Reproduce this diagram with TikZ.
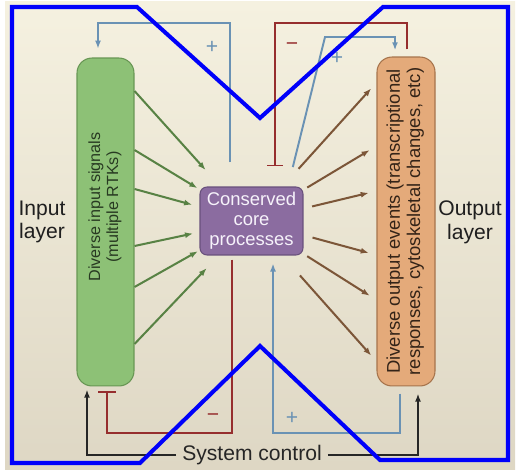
\documentclass[tikz,border=0pt]{standalone}
\usepackage{fontspec}
\setmainfont{Liberation Sans}
\usepackage{graphicx}
\usetikzlibrary{arrows.meta,calc}

\definecolor{bgtop}{RGB}{245,241,224}
\definecolor{bgbot}{RGB}{222,215,196}
\definecolor{inputfill}{RGB}{141,193,118}
\definecolor{inputline}{RGB}{104,150,84}
\definecolor{inputtext}{RGB}{40,58,34}
\definecolor{inarrowc}{RGB}{88,130,68}
\definecolor{outputfill}{RGB}{228,170,122}
\definecolor{outputline}{RGB}{166,116,76}
\definecolor{outputtext}{RGB}{52,36,24}
\definecolor{outarrowc}{RGB}{124,86,56}
\definecolor{corefill}{RGB}{139,108,160}
\definecolor{coreline}{RGB}{104,80,124}
\definecolor{coretext}{RGB}{246,242,250}
\definecolor{plusc}{RGB}{106,146,180}
\definecolor{minusc}{RGB}{150,46,46}
\definecolor{markerblue}{RGB}{0,0,250}

\begin{document}
\begin{tikzpicture}[x=0.02cm,y=-0.02cm,
  inbar/.style={draw=inputline,fill=inputfill,line width=0.6pt,rounded corners=0.3cm,
    minimum width=1.14cm,minimum height=6.56cm,inner sep=0pt,text=inputtext,
    font=\fontsize{9.2}{10.2}\selectfont},
  outbar/.style={draw=outputline,fill=outputfill,line width=0.6pt,rounded corners=0.3cm,
    minimum width=1.16cm,minimum height=6.58cm,inner sep=0pt,text=outputtext,
    font=\fontsize{10.5}{11.4}\selectfont},
  corebox/.style={draw=coreline,fill=corefill,line width=0.6pt,rounded corners=0.14cm,
    minimum width=2.06cm,minimum height=1.36cm,inner sep=0pt,align=center,text=coretext,
    font=\fontsize{10.5}{11.4}\selectfont},
  sidelabel/.style={align=center,text=black!88,font=\fontsize{12}{13.5}\selectfont},
  ctrllabel/.style={text=black!85,font=\fontsize{12}{13.5}\selectfont},
  inarrow/.style={draw=inarrowc,line width=1.15pt,-{Latex[length=4.6pt,width=3.4pt]}},
  outarrow/.style={draw=outarrowc,line width=1.15pt,-{Latex[length=4.6pt,width=3.4pt]},shorten >=4.5pt},
  plusline/.style={draw=plusc,line width=1.1pt},
  minusline/.style={draw=minusc,line width=1.1pt},
  ctrlline/.style={draw=black!85,line width=1.1pt,-{Latex[length=4.6pt,width=3.4pt]}},
  plusmark/.style={text=plusc,inner sep=0pt,font=\fontsize{12}{12}\selectfont},
  minusmark/.style={text=minusc,inner sep=0pt,font=\fontsize{12}{12}\selectfont},
  hourglass/.style={draw=markerblue,line width=2.3pt}]

  \useasboundingbox (0,0) rectangle (520,472);
  \shade[top color=bgtop,bottom color=bgbot] (5,2) rectangle (515,469);

  % the three layers
  \node[inbar] (in) at (105.5,222)
    {\raisebox{17pt}{\rotatebox{90}{\begin{tabular}{@{}c@{}}Diverse input signals\\(multiple RTKs)\end{tabular}}}};
  \node[outbar] (out) at (406,221.5)
    {\rotatebox{90}{\begin{tabular}{@{}c@{}}Diverse output events (transcriptional\\responses, cytoskeletal changes, etc)\end{tabular}}};
  \node[corebox] (core) at (251.5,221) {Conserved\\core\\processes};

  \node[sidelabel] (inlabel) at (42,222) {Input\\layer};
  \node[sidelabel] (outlabel) at (470,222) {Output\\layer};
  \node[ctrllabel] (sys) at (252,455) {System control};

  % fan in and fan out
  \foreach \ya/\r in {91/39pt,150/36pt,189/35pt,246/34pt,287/35pt,344/37pt}
  {
  \draw[inarrow] (in.east |- 0,\ya) -- ($(core.center)!\r!(in.east |- 0,\ya)$);
  }
  \foreach \yb/\r in {82.5/40pt,146/37pt,191/35.5pt,255/36pt,300/37.5pt,361.5/41.5pt}
  {
  \draw[outarrow] ($(core.center)!\r!(out.west |- 0,\yb)$) -- (out.west |- 0,\yb);
  }

  % feedback loops
  \draw[plusline,-{Latex[length=4.6pt,width=3.4pt]},shorten <=13.7pt,shorten >=5pt]
    (core.north -| 230,0) |- (98,23) -- (in.north -| 98,0);
  \draw[plusline,-{Latex[length=4.6pt,width=3.4pt]},shorten <=11.4pt,shorten >=3.5pt]
    (core.north -| 288,0) -- (325,37) -- (395,37) -- (out.north -| 395,0);
  \draw[minusline,-{Bar[width=9pt]},shorten <=4pt,shorten >=11.4pt]
    (out.north -| 407,0) -- (407,23) -- (275,23) -- (core.north -| 275,0);
  \draw[minusline,-{Bar[width=10pt]},shorten <=2.3pt,shorten >=2.8pt]
    (core.south -| 232,0) -- (232,433) -- (107,433) -- (in.south -| 107,0);
  \draw[plusline,-{Latex[length=4.6pt,width=3.4pt]},shorten <=4pt,shorten >=4.5pt]
    (out.south -| 400,0) -- (400,433) -- (273,433) -- (core.south -| 273,0);

  % system control
  \draw[ctrlline,shorten >=1.7pt] (sys.west) -| (in.south -| 87,0);
  \draw[ctrlline,shorten >=4pt] (sys.east) -| (out.south -| 418,0);

  \node[plusmark] (plusA) at (212,47) {+};
  \node[plusmark] (plusB) at (337,58) {+};
  \node[minusmark] (minusA) at (292,47) {−};
  \node[minusmark] (minusB) at (213,418) {−};
  \node[plusmark] (plusC) at (292,418) {+};

  % blue outline on top
  \draw[hourglass] (12,7) -- (137,7) -- (260,118) -- (383,7) -- (508,7) -- (508,460)
    -- (380,460) -- (260,346) -- (140,463) -- (12,463) -- cycle;

\end{tikzpicture}
\end{document}
